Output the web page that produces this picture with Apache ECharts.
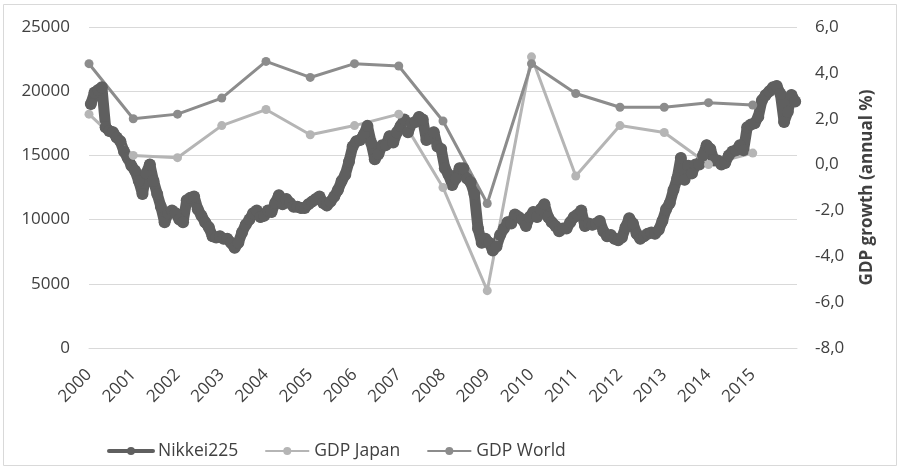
<!DOCTYPE html>
<html lang="en">
  <head>
    <meta charset="UTF-8" />
    <title>Nikkei225 vs GDP growth</title>
    <script src="https://cdn.jsdelivr.net/npm/echarts@6/dist/echarts.min.js"></script>
    <style>
      body { margin: 0; background: #fff; }
      #chart { width: 900px; height: 469px; }
    </style>
  </head>
  <body>
    <div id="chart"></div>
    <script>
      // years shown on the x axis
      var years = [2000, 2001, 2002, 2003, 2004, 2005, 2006, 2007, 2008, 2009, 2010, 2011, 2012, 2013, 2014, 2015];

      // annual GDP growth (%), right axis
      var gdpJapan = [2.2, 0.4, 0.3, 1.7, 2.4, 1.3, 1.7, 2.2, -1.0, -5.5, 4.7, -0.5, 1.7, 1.4, 0.0, 0.5];
      var gdpWorld = [4.4, 2.0, 2.2, 2.9, 4.5, 3.8, 4.4, 4.3, 1.9, -1.7, 4.4, 3.1, 2.5, 2.5, 2.7, 2.6];

      // Nikkei225, one value per month (Jan..Dec), left axis
      var nikkei = [
        19000, 19900, 20100, 20300, 17200, 16900, 16800, 16400, 16100, 15300, 14800, 14200, // 2000
        13800, 13000, 12000, 13600, 14300, 13000, 12000, 11000, 9800, 10500, 10700, 10500,  // 2001
        10000, 9800, 11500, 11700, 11800, 10800, 10300, 9800, 9400, 8700, 8600, 8700,       // 2002
        8500, 8500, 8200, 7800, 8200, 9000, 9600, 10000, 10500, 10700, 10200, 10300,        // 2003
        10700, 10600, 11300, 11900, 11200, 11600, 11300, 11000, 11000, 10900, 10900, 11200, // 2004
        11400, 11600, 11800, 11300, 11100, 11400, 11800, 12300, 13000, 13500, 14500, 15700, // 2005
        16100, 16200, 16600, 17300, 16000, 14700, 15100, 15800, 15800, 16500, 16000, 16800, // 2006
        17300, 17800, 16800, 17500, 17600, 18000, 17800, 16200, 16400, 16800, 15700, 15500, // 2007
        14000, 13500, 12700, 13200, 14000, 14000, 13200, 12900, 12000, 9300, 8200, 8500,    // 2008
        8200, 7600, 7900, 8800, 9300, 9800, 9700, 10400, 10200, 10000, 9500, 10200,         // 2009
        10600, 10200, 10800, 11200, 10200, 9800, 9500, 9100, 9300, 9300, 9800, 10200,       // 2010
        10400, 10700, 9500, 9700, 9600, 9700, 9900, 9100, 8700, 8800, 8500, 8400,          // 2011
        8600, 9400, 10100, 9700, 8900, 8500, 8700, 8900, 9000, 8900, 9200, 9900,           // 2012
        10800, 11300, 12300, 13200, 14800, 13100, 14200, 13600, 14300, 14300, 15000, 15800, // 2013
        15500, 14600, 14600, 14300, 14400, 15000, 15300, 15400, 15800, 15400, 17200, 17400, // 2014
        17500, 18000, 19300, 19700, 20000, 20300, 20400, 19800, 17600, 18400, 19700, 19200  // 2015
      ];

      var textColor = '#404040';
      var gridColor = '#d9d9d9';

      var nikkeiData = nikkei.map(function (v, i) {
        return [years[0] + (i + 0.5) / 12, v];
      });
      var japanData = years.map(function (y, i) { return [y, gdpJapan[i]]; });
      var worldData = years.map(function (y, i) { return [y, gdpWorld[i]]; });

      var chart = echarts.init(document.getElementById('chart'));

      var option = {
        animation: false,
        textStyle: { fontFamily: 'Open Sans' },
        graphic: [
          {
            type: 'rect',
            shape: { x: 3.5, y: 4.5, width: 893, height: 461 },
            style: { fill: 'none', stroke: gridColor, lineWidth: 1 },
            silent: true
          }
        ],
        grid: { left: 89, right: 103, top: 27, bottom: 121, containLabel: false, outerBoundsMode: 'none' },
        legend: {
          left: 102,
          top: 437,
          itemWidth: 44,
          itemHeight: 10,
          itemGap: 26,
          textStyle: { fontSize: 17.5, color: textColor },
          data: [
            { name: 'Nikkei225', lineStyle: { width: 4 } },
            { name: 'GDP Japan' },
            { name: 'GDP World' }
          ]
        },
        xAxis: {
          type: 'value',
          min: 2000,
          max: 2016,
          interval: 1,
          axisLine: { show: true, lineStyle: { color: gridColor } },
          axisTick: { show: false },
          splitLine: { show: false },
          axisLabel: {
            rotate: 45,
            margin: 24,
            fontSize: 17,
            color: textColor,
            formatter: function (v) { return v < 2016 ? String(v) : ''; }
          }
        },
        yAxis: [
          {
            type: 'value',
            min: 0,
            max: 25000,
            interval: 5000,
            axisLine: { show: false },
            axisTick: { show: false },
            splitLine: { lineStyle: { color: gridColor, width: 1 } },
            axisLabel: {
              margin: 19,
              fontSize: 17,
              color: textColor,
              formatter: function (v) { return String(v); }
            }
          },
          {
            type: 'value',
            min: -8,
            max: 6,
            interval: 2,
            position: 'right',
            name: 'GDP growth (annual %)',
            nameLocation: 'middle',
            nameRotate: 90,
            nameGap: 62,
            nameTextStyle: { fontSize: 17, fontWeight: 'bold', color: textColor },
            axisLine: { show: false },
            axisTick: { show: false },
            splitLine: { show: false },
            axisLabel: {
              margin: 18,
              fontSize: 17,
              color: textColor,
              formatter: function (v) { return v.toFixed(1).replace('.', ','); }
            }
          }
        ],
        series: [
          {
            name: 'Nikkei225',
            type: 'line',
            yAxisIndex: 0,
            data: nikkeiData,
            color: '#5f5f5f',
            symbol: 'circle',
            symbolSize: 12,
            lineStyle: { width: 11, join: 'round', cap: 'round' }
          },
          {
            name: 'GDP Japan',
            type: 'line',
            yAxisIndex: 1,
            data: japanData,
            color: '#b5b5b5',
            symbol: 'circle',
            symbolSize: 9,
            lineStyle: { width: 3 }
          },
          {
            name: 'GDP World',
            type: 'line',
            yAxisIndex: 1,
            data: worldData,
            color: '#8c8c8c',
            symbol: 'circle',
            symbolSize: 9,
            lineStyle: { width: 3 }
          }
        ]
      };

      chart.setOption(option);
    </script>
  </body>
</html>
